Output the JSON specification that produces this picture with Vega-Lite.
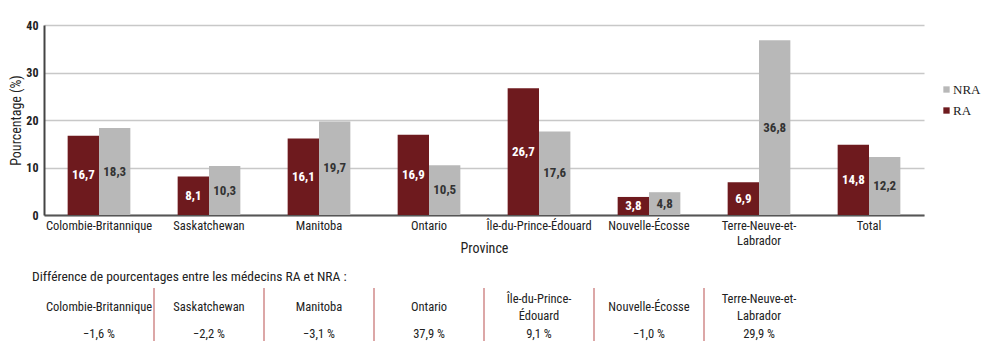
{
  "$schema": "https://vega.github.io/schema/vega-lite/v6.json",
  "padding": {"left": 9, "top": 19, "right": 5, "bottom": 3},
  "background": "#ffffff",
  "config": {
    "font": "'Roboto Condensed', 'DejaVu Sans Condensed', 'Liberation Sans Narrow', 'Open Sans Condensed', Roboto, sans-serif",
    "view": {"stroke": null},
    "locale": {"number": {"decimal": ",", "thousands": " ", "grouping": [3], "currency": ["", " $"], "percent": " %"}},
    "concat": {"spacing": 14}
  },
  "datasets": {
    "bars": [
      {"province": "Colombie-Britannique", "group": "RA", "value": 16.7},
      {"province": "Colombie-Britannique", "group": "NRA", "value": 18.3},
      {"province": "Saskatchewan", "group": "RA", "value": 8.1},
      {"province": "Saskatchewan", "group": "NRA", "value": 10.3},
      {"province": "Manitoba", "group": "RA", "value": 16.1},
      {"province": "Manitoba", "group": "NRA", "value": 19.7},
      {"province": "Ontario", "group": "RA", "value": 16.9},
      {"province": "Ontario", "group": "NRA", "value": 10.5},
      {"province": "Île-du-Prince-Édouard", "group": "RA", "value": 26.7},
      {"province": "Île-du-Prince-Édouard", "group": "NRA", "value": 17.6},
      {"province": "Nouvelle-Écosse", "group": "RA", "value": 3.8},
      {"province": "Nouvelle-Écosse", "group": "NRA", "value": 4.8},
      {"province": "Terre-Neuve-et-Labrador", "group": "RA", "value": 6.9},
      {"province": "Terre-Neuve-et-Labrador", "group": "NRA", "value": 36.8},
      {"province": "Total", "group": "RA", "value": 14.8},
      {"province": "Total", "group": "NRA", "value": 12.2}
    ],
    "diffs": [
      {"province": "Colombie-Britannique", "label": "Colombie-Britannique", "diff": -0.016},
      {"province": "Saskatchewan", "label": "Saskatchewan", "diff": -0.022},
      {"province": "Manitoba", "label": "Manitoba", "diff": -0.031},
      {"province": "Ontario", "label": "Ontario", "diff": 0.379},
      {"province": "Île-du-Prince-Édouard", "label": "Île-du-Prince-\nÉdouard", "diff": 0.091},
      {"province": "Nouvelle-Écosse", "label": "Nouvelle-Écosse", "diff": -0.010},
      {"province": "Terre-Neuve-et-Labrador", "label": "Terre-Neuve-et-\nLabrador", "diff": 0.299}
    ]
  },
  "vconcat": [
    {
      "width": 880,
      "height": 190,
      "data": {"name": "bars"},
      "encoding": {
        "x": {
          "field": "province", "type": "nominal", "sort": null,
          "scale": {"paddingInner": 0.43, "paddingOuter": 0.215},
          "axis": {
            "title": "Province", "labelAngle": 0, "tickSize": 0, "ticks": false, "labelPadding": 4,
            "labelFontSize": 12.5, "labelColor": "#222222", "labelLineHeight": 15,
            "labelExpr": "datum.value == 'Terre-Neuve-et-Labrador' ? ['Terre-Neuve-et-', 'Labrador'] : datum.value",
            "domainColor": "#555555", "domainWidth": 2,
            "titleFontSize": 14, "titleFontWeight": "normal", "titleColor": "#222222",
            "titleY": 33, "titleBaseline": "middle"
          }
        },
        "xOffset": {"field": "group", "type": "nominal", "sort": ["RA", "NRA"]}
      },
      "layer": [
        {
          "mark": {"type": "bar"},
          "encoding": {
            "y": {
              "field": "value", "type": "quantitative",
              "scale": {"domain": [0, 40], "nice": false},
              "axis": {
                "title": "Pourcentage (%)", "values": [0, 10, 20, 30, 40], "tickSize": 0, "ticks": false,
                "labelPadding": 6, "labelFontWeight": "bold", "labelFontSize": 12, "labelColor": "#222222",
                "titleFontSize": 14, "titleFontWeight": "normal", "titleColor": "#222222", "titlePadding": 2,
                "domainColor": "#444444", "domainWidth": 2, "gridColor": "#c8c8c8", "gridWidth": 1.5
              }
            },
            "color": {
              "field": "group", "type": "nominal",
              "scale": {"domain": ["RA", "NRA"], "range": ["#6e1a1e", "#b8b8b8"]},
              "legend": {
                "values": ["NRA", "RA"], "title": null, "orient": "none", "legendX": 896, "legendY": 58,
                "symbolType": "square", "symbolSize": 40, "symbolStrokeWidth": 0, "padding": 0,
                "labelFont": "Liberation Serif", "labelFontSize": 13, "labelColor": "#222222",
                "labelOffset": 0, "rowPadding": 7
              }
            }
          }
        },
        {
          "mark": {"type": "text", "fontWeight": "bold", "fontSize": 13, "baseline": "middle"},
          "encoding": {
            "y": {"field": "value", "type": "quantitative", "scale": {"domain": [0, 80], "nice": false}, "axis": null},
            "text": {"field": "value", "type": "quantitative", "format": ".1f"},
            "color": {"condition": {"test": "datum.group === 'RA'", "value": "#ffffff"}, "value": "#333333"}
          }
        }
      ],
      "resolve": {"scale": {"y": "independent"}}
    },
    {
      "width": 880,
      "height": 53,
      "data": {"name": "diffs"},
      "title": {
        "text": "Différence de pourcentages entre les médecins RA et NRA :",
        "anchor": "start", "fontSize": 13.5, "fontWeight": "normal", "color": "#222222",
        "dx": -12, "offset": 4
      },
      "encoding": {
        "x": {
          "field": "province", "type": "nominal", "sort": null,
          "scale": {
            "domain": ["Colombie-Britannique", "Saskatchewan", "Manitoba", "Ontario", "Île-du-Prince-Édouard", "Nouvelle-Écosse", "Terre-Neuve-et-Labrador", "Total"],
            "paddingInner": 0, "paddingOuter": 0
          },
          "axis": null
        }
      },
      "layer": [
        {
          "transform": [{"filter": "datum.province !== 'Terre-Neuve-et-Labrador'"}],
          "mark": {"type": "rule", "color": "#d08a8a", "strokeWidth": 1.5},
          "encoding": {
            "x": {"field": "province", "type": "nominal", "sort": null, "bandPosition": 1}
          }
        },
        {
          "transform": [{"filter": "indexof(datum.label, '\\n') < 0"}],
          "mark": {"type": "text", "fontSize": 12.5, "baseline": "middle", "color": "#222222"},
          "encoding": {
            "text": {"field": "label", "type": "nominal"},
            "y": {"datum": "nom", "type": "nominal", "scale": {"domain": ["nom", "diff"], "range": [19, 46], "padding": 0}, "axis": null}
          }
        },
        {
          "transform": [{"filter": "indexof(datum.label, '\\n') >= 0"}],
          "mark": {"type": "text", "lineBreak": "\n", "fontSize": 12.5, "baseline": "middle", "lineHeight": 17, "dy": -8.5, "color": "#222222"},
          "encoding": {
            "text": {"field": "label", "type": "nominal"},
            "y": {"datum": "nom", "type": "nominal"}
          }
        },
        {
          "mark": {"type": "text", "fontSize": 12.5, "baseline": "middle", "color": "#222222"},
          "encoding": {
            "text": {"field": "diff", "type": "quantitative", "format": ".1%"},
            "y": {"datum": "diff", "type": "nominal"}
          }
        }
      ]
    }
  ]
}
